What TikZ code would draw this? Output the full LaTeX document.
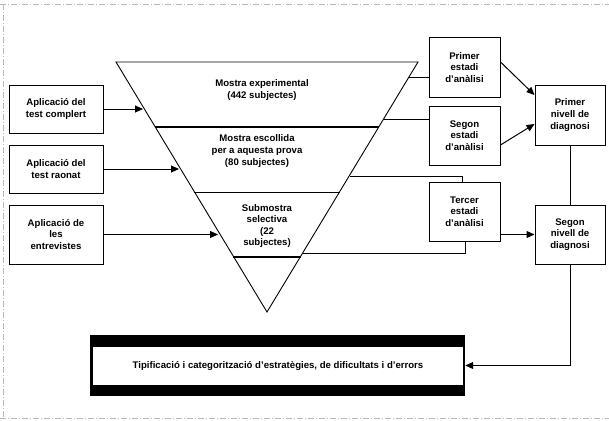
\documentclass[tikz,border=0pt]{standalone}
\usepackage{fontspec}
\setmainfont{Liberation Sans}
\usetikzlibrary{arrows.meta,calc}
\begin{document}
\begin{tikzpicture}[x=1pt,y=-1pt,
  lbl/.style={font=\fontsize{9.6}{11.6}\selectfont\bfseries,align=center,inner sep=0pt},
  box/.style={lbl,draw,line width=1pt,fill=white},
  lbox/.style={box,minimum width=94pt},
  ebox/.style={box,minimum width=71pt,minimum height=59pt},
  nbox/.style={box,minimum width=70pt,minimum height=59pt},
  arr/.style={-{Triangle[length=8pt,width=7pt]},line width=1pt},
  ln/.style={line width=0.9pt},
  frame/.style={gray!55,line width=0.4pt,dash pattern=on 6pt off 2pt on 1pt off 2pt}]
\useasboundingbox (0,0) rectangle (609,420);
% faint scan frame
\draw[frame] (0,4) -- (609,4);
\draw[frame] (3,4) -- (3,418);
\draw[frame] (0,418) -- (609,418);

% triangle
\coordinate (tl) at (116,62);
\coordinate (tr) at (418,62);
\coordinate (ap) at (267,312);
\draw[ln] (tl) -- (tr) -- (ap) -- cycle;
\coordinate (d1l) at (155,127); \coordinate (d1r) at (379,127);
\coordinate (d2l) at (194,192); \coordinate (d2r) at (340,192);
\coordinate (d3l) at (233,257); \coordinate (d3r) at (301,257);
\draw[line width=1.6pt] (d1l) -- (d1r);
\draw[line width=0.8pt] (d2l) -- (d2r);
\draw[line width=1.2pt] (d3l) -- (d3r);

\node[lbl] (m1) at (262,90) {Mostra experimental\\(442 subjectes)};
\node[lbl] (m2) at (257,151) {Mostra escollida\\per a aquesta prova\\(80 subjectes)};
\node[lbl] (m3) at (267,226) {Submostra\\selectiva\\(22\\subjectes)};

% left boxes
\node[lbox,minimum height=48pt] (b1) at (56,109) {Aplicació del\\test complert};
\node[lbox,minimum height=48pt] (b2) at (56,169) {Aplicació del\\test raonat};
\node[lbox,minimum height=59pt] (b3) at (56,234.5) {Aplicació de\\les\\entrevistes};
\coordinate (a1) at (143,109);
\coordinate (a2) at (179,169);
\coordinate (a3) at (218,234.5);
\draw[arr] (b1.east) -- (a1);
\draw[arr] (b2.east) -- (a2);
\draw[arr] (b3.east) -- (a3);

% right boxes
\node[ebox] (pe) at (464.5,67.5) {Primer\\estadi\\d'anàlisi};
\node[ebox] (se) at (464.5,135.5) {Segon\\estadi\\d'anàlisi};
\node[ebox] (te) at (464.5,211.5) {Tercer\\estadi\\d'anàlisi};
\node[nbox,minimum height=60pt] (pn) at (570,115) {Primer\\nivell de\\diagnosi};
\node[nbox] (sn) at (570,234.5) {Segon\\nivell de\\diagnosi};

% connectors from triangle to stage boxes
\coordinate (c1) at (409,77);
\coordinate (c2) at (384,119);
\coordinate (c3) at (350,176);
\coordinate (c3b) at (462,176);
\coordinate (c4) at (303,253);
\coordinate (c4b) at (465,253);
\draw[ln] (c1) -- (pe.west |- c1);
\draw[ln] (c2) -- (se.west |- c2);
\draw[ln] (c3) -- (c3b) -- (c3b |- te.north);
\draw[ln] (c4) -- (c4b) -- (c4b |- te.south);

% arrows to levels
\draw[arr] ($(pe.east)+(0,-5.5)$) -- ($(pn.west)+(0,-20)$);
\draw[arr] ($(se.east)+(0,9.5)$) -- ($(pn.west)+(0,9)$);
\draw[arr] (te.east |- sn.west) -- (sn.west);
\draw[ln] (pn.south) -- (sn.north);

% bottom box
\node[fill=black,minimum width=375pt,minimum height=61pt,inner sep=0pt] (tf) at (277.5,365.5) {};
\node[lbl,fill=white,minimum width=370pt,minimum height=38pt] (tp) at (278,366) {Tipificació i categorització d'estratègies, de dificultats i d'errors};
\draw[arr] (sn.south) |- (tf.east);
\end{tikzpicture}
\end{document}
